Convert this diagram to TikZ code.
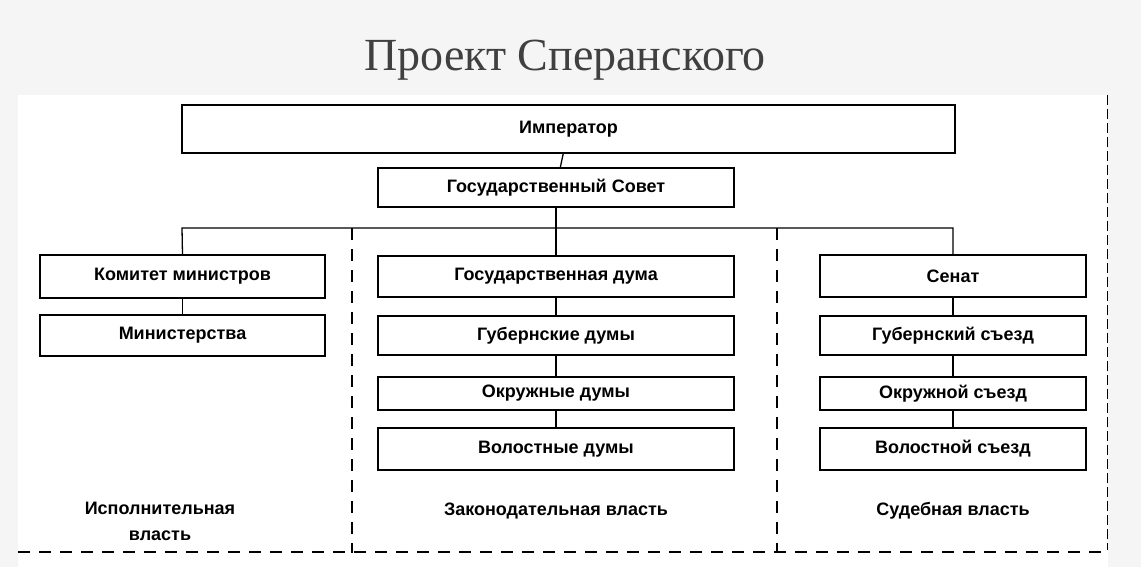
\documentclass[tikz,border=0pt]{standalone}
\usepackage{fontspec}
\setmainfont{Liberation Sans}
\newfontfamily\titlefont{Liberation Serif}
\begin{document}
\begin{tikzpicture}[x=1pt,y=-1pt,
  bx/.style={draw,line width=1.3pt,inner sep=0pt,font=\fontsize{18}{20}\selectfont\bfseries},
  ln/.style={line width=1.3pt},
  dsh/.style={line width=2pt,dash pattern=on 12pt off 9pt},
  lbl/.style={font=\fontsize{18}{26}\selectfont\bfseries,align=center}]
\fill[gray!8] (0,0) rectangle (1141,567);
\useasboundingbox (0,0) rectangle (1141,567);
\fill[white] (18,95) rectangle (1108,567);
\node[font=\titlefont\fontsize{46}{50}\selectfont,text=black!75] (title) at (565,60) {Проект Сперанского};
\node[bx,minimum width=773pt,minimum height=48pt] (imp) at (568.5,129) {Император};
\node[bx,minimum width=356pt,minimum height=39pt] (gs) at (556,187.5) {Государственный Совет};
\coordinate (bl) at (182,228); \coordinate (bm) at (556,228); \coordinate (br) at (953,228);
\foreach \n/\t/\y/\h in {km/Комитет министров/276.5/43, mn/Министерства/335.5/41}
  \node[bx,minimum width=285pt,minimum height=\h pt] (\n) at (182.5,\y) {\t};
\foreach \n/\t/\y/\h in {gd/Государственная дума/276.5/41, gub/Губернские думы/335.5/39, okr/Окружные думы/393.5/33, vol/Волостные думы/449/42}
  \node[bx,minimum width=356pt,minimum height=\h pt] (\n) at (556,\y) {\t};
\foreach \n/\t/\y/\h in {sen/Сенат/276/42, gsz/Губернский съезд/335.5/39, osz/Окружной съезд/393.5/33, vsz/Волостной съезд/449/42}
  \node[bx,minimum width=266pt,minimum height=\h pt] (\n) at (953,\y) {\t};
\draw[ln] (imp) -- (gs);
\draw[ln] (gs) -- (bm);
\draw[ln] (km.north) -- (bl) -- (br) -- (sen.north);
\draw[ln] (bm) -- (gd);
\draw[ln] (km) -- (mn);
\draw[ln] (gd) -- (gub); \draw[ln] (gub) -- (okr); \draw[ln] (okr) -- (vol);
\draw[ln] (sen) -- (gsz); \draw[ln] (gsz) -- (osz); \draw[ln] (osz) -- (vsz);
\coordinate (d1a) at (352,228); \coordinate (d1b) at (352,553);
\coordinate (d2a) at (777,228); \coordinate (d2b) at (777,553);
\draw[dsh] (d1a) -- (d1b);
\draw[dsh] (d2a) -- (d2b);
\coordinate (bt1) at (18,552); \coordinate (bt2) at (1106,552);
\draw[dsh] (bt1) -- (bt2);
\coordinate (r1) at (1107,95); \coordinate (r2) at (1107,550);
\draw[line width=0.8pt,dash pattern=on 10pt off 4pt] (r1) -- (r2);
\node[lbl] (ex) at (160,521) {Исполнительная\\власть};
\node[lbl] (lg) at (556,511) {Законодательная власть};
\node[lbl] (jd) at (953,511) {Судебная власть};
\end{tikzpicture}
\end{document}
